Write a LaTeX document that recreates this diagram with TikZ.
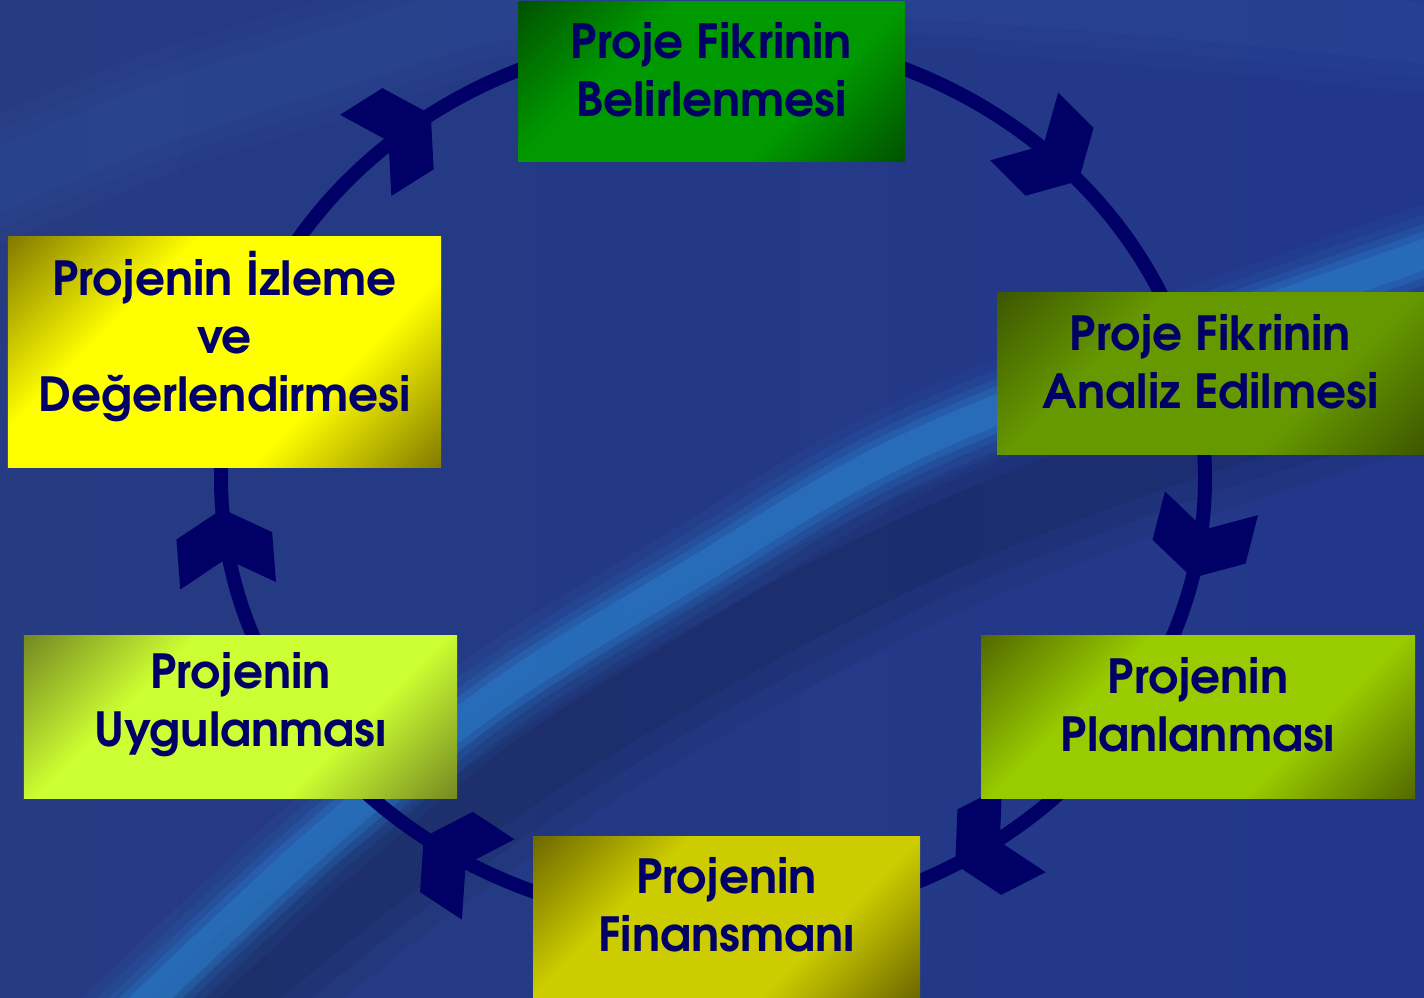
\documentclass[tikz,border=0pt]{standalone}
\usepackage{fontspec}
\setmainfont{texgyreadventor}[Extension=.otf, UprightFont=*-regular, BoldFont=*-bold, ItalicFont=*-italic, BoldItalicFont=*-bolditalic]
\usetikzlibrary{calc}

\definecolor{navy}{HTML}{000066}
\definecolor{bgL}{HTML}{263B82}
\definecolor{bgR}{HTML}{22378A}
\definecolor{swoosh}{HTML}{2C8AD8}
\definecolor{swooshtop}{HTML}{3A64B0}

\definecolor{darkA}{HTML}{004D00}\definecolor{lightA}{HTML}{009900}
\definecolor{darkB}{HTML}{3A5200}\definecolor{lightB}{HTML}{669900}
\definecolor{darkC}{HTML}{4D6200}\definecolor{lightC}{HTML}{99CC00}
\definecolor{darkD}{HTML}{666000}\definecolor{lightD}{HTML}{CCCC00}
\definecolor{darkE}{HTML}{6F8020}\definecolor{lightE}{HTML}{CCFF33}
\definecolor{darkF}{HTML}{7A7000}\definecolor{lightF}{HTML}{FFFF00}

\newcommand\mkboxshade[3]{\pgfdeclarehorizontalshading{#1}{100bp}{color(0bp)=(#2); color(13bp)=(#2); color(35bp)=(#3); color(65bp)=(#3); color(87bp)=(#2); color(100bp)=(#2)}}
\mkboxshade{shA}{darkA}{lightA}
\mkboxshade{shB}{darkB}{lightB}
\mkboxshade{shC}{darkC}{lightC}
\mkboxshade{shD}{darkD}{lightD}
\mkboxshade{shE}{darkE}{lightE}
\mkboxshade{shF}{darkF}{lightF}

\tikzset{
  stagebox/.style={rectangle, inner sep=0pt, outer sep=0pt, draw=none, shade, shading angle=-45},
  stagetext/.style={align=center, text=navy, inner sep=0pt,
    font=\bfseries\fontsize{47bp}{58bp}\selectfont},
  ring/.style={draw=navy, line width=14bp},
  chev/.style={fill=navy}
}

\begin{document}
\begin{tikzpicture}[x=1bp,y=1bp]
\useasboundingbox (0,0) rectangle (1424,997);
% background
\shade[left color=bgL, right color=bgR] (0,0) rectangle (1424,997);
\begin{scope}
\clip (0,0) rectangle (1424,997);
% faint upper swoosh
\foreach \w/\o in {120/0.06, 90/0.08, 60/0.10}
  \draw[line width=\w bp, color=swooshtop, opacity=\o, line cap=round]
    plot[smooth, tension=0.6] coordinates {(-40,800) (150,880) (340,940) (520,990) (800,1010) (1100,995) (1460,960)};
% dark shadow under main swoosh
\foreach \w/\o in {150/0.05, 110/0.06, 70/0.07}
  \draw[line width=\w bp, color=black, opacity=\o, line cap=round]
    plot[smooth, tension=0.6] coordinates {(160,-60) (300,60) (450,175) (640,300) (900,440) (1150,540) (1460,640)};
% main light swoosh
\foreach \w/\o in {95/0.07, 75/0.10, 58/0.16, 44/0.24, 30/0.32}
  \draw[line width=\w bp, color=swoosh, opacity=\o, line cap=round]
    plot[smooth, tension=0.6] coordinates {(110,-40) (215,60) (330,165) (495,300) (700,428) (900,545) (1150,645) (1460,755)};
\end{scope}

% cycle ring
\draw[ring] (713,519) ellipse [x radius=492, y radius=444];

% chevron arrowheads along the ring (clockwise)
\foreach \t in {125,42,-13,-60.5,-126,-176}{
  \pgfmathsetmacro\ax{713+492*cos(\t)}
  \pgfmathsetmacro\ay{519+444*sin(\t)}
  \pgfmathsetmacro\ang{atan2(-444*cos(\t),492*sin(\t))}
  \fill[chev, shift={(\ax,\ay)}, rotate=\ang]
    (0,0) -- (-27,48) -- (-77,48) -- (-50,0) -- (-77,-48) -- (-27,-48) -- cycle;
}

% stage boxes
\node[stagebox, shading=shA, minimum width=387bp, minimum height=160bp] (b1) at (711.5,915) {};
\node[stagebox, shading=shB, minimum width=427bp, minimum height=162bp] (b2) at (1210.5,623) {};
\node[stagebox, shading=shC, minimum width=434bp, minimum height=162bp] (b3) at (1198,280) {};
\node[stagebox, shading=shD, minimum width=387bp, minimum height=162bp] (b4) at (726.5,80) {};
\node[stagebox, shading=shE, minimum width=433bp, minimum height=162bp] (b5) at (240.5,280) {};
\node[stagebox, shading=shF, minimum width=433bp, minimum height=231bp] (b6) at (224.5,644.5) {};

\node[stagetext] (t1) at ([yshift=12bp]b1.center) {Proje Fikrinin\\Belirlenmesi};
\node[stagetext] (t2) at ([yshift=12bp]b2.center) {Proje Fikrinin\\Analiz Edilmesi};
\node[stagetext] (t3) at ([yshift=12bp]b3.center) {Projenin\\Planlanması};
\node[stagetext] (t4) at ([yshift=12bp]b4.center) {Projenin\\Finansmanı};
\node[stagetext] (t5) at ([yshift=12bp]b5.center) {Projenin\\Uygulanması};
\node[stagetext] (t6) at ([yshift=16bp]b6.center) {Projenin İzleme\\ve\\Değerlendirmesi};
\end{tikzpicture}
\end{document}
